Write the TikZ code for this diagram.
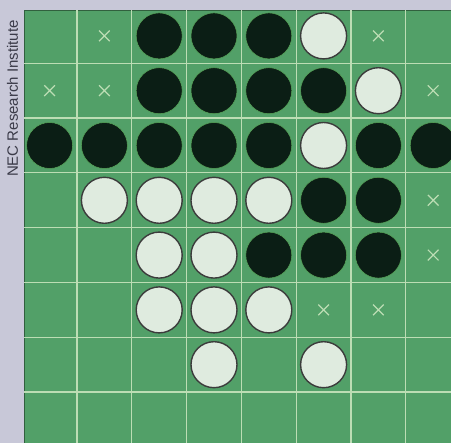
\documentclass[tikz,border=0pt]{standalone}
\usepackage{fontspec}
\setsansfont{Liberation Sans}
\usetikzlibrary{positioning,shapes.misc}
\definecolor{sidebar}{HTML}{C8C8D8}
\definecolor{felt}{HTML}{52A068}
\definecolor{gridpale}{HTML}{BCDDB4}
\definecolor{stoneblack}{HTML}{0B1E15}
\definecolor{stonewhite}{HTML}{DFEBDF}
\definecolor{rimdark}{HTML}{3C3C3C}
\definecolor{creditgrey}{HTML}{3A3A48}

\begin{document}
\begin{tikzpicture}[x=1pt,y=-1pt,
  gridline/.style={gridpale,line width=1.2pt},
  disc/.style={circle,minimum size=46pt,inner sep=0pt},
  blackdisc/.style={disc,fill=stoneblack,draw=gray!70!green,line width=0.5pt},
  whitedisc/.style={disc,fill=stonewhite,draw=rimdark,line width=1.4pt},
  legal/.style={cross out,draw=gridpale,line width=1.2pt,minimum size=9.5pt,inner sep=0pt}]
  \useasboundingbox (0,0) rectangle (451,443);
  \fill[sidebar] (0,0) rectangle (451,443);
  \fill[felt] (24,10) rectangle (451,443);
  \draw[felt!60!black,line width=0.8pt] (24,443) -- (24,10) -- (451,10);
  % grid
  \foreach \k in {1,...,7} {
    \draw[gridline] (22.2+\k*54.8,10.4) -- (22.2+\k*54.8,443);
    \draw[gridline] (24.4,8.5+\k*54.8) -- (451,8.5+\k*54.8);
  }
  % black discs (row/column)
  \foreach \r/\c in {0/2,0/3,0/4, 1/2,1/3,1/4,1/5,
                     2/0,2/1,2/2,2/3,2/4,2/6,2/7, 3/5,3/6, 4/4,4/5,4/6}
    \node[blackdisc] (b-\r-\c) at (22.2+54.8*\c+27.4, 8.5+54.8*\r+27.4) {};
  % white discs
  \foreach \r/\c in {0/5, 1/6, 2/5, 3/1,3/2,3/3,3/4, 4/2,4/3,
                     5/2,5/3,5/4, 6/3,6/5}
    \node[whitedisc] (w-\r-\c) at (22.2+54.8*\c+27.4, 8.5+54.8*\r+27.4) {};
  % legal moves
  \foreach \r/\c in {0/1,0/6, 1/0,1/1,1/7, 3/7, 4/7, 5/5,5/6}
    \node[legal] (x-\r-\c) at (22.2+54.8*\c+27.4, 8.5+54.8*\r+27.4) {};
  \node[rotate=90,text=creditgrey,font=\sffamily\fontsize{15}{15}\selectfont]
    (credit) at (12.5,98.5) {NEC Research Institute};
\end{tikzpicture}
\end{document}
